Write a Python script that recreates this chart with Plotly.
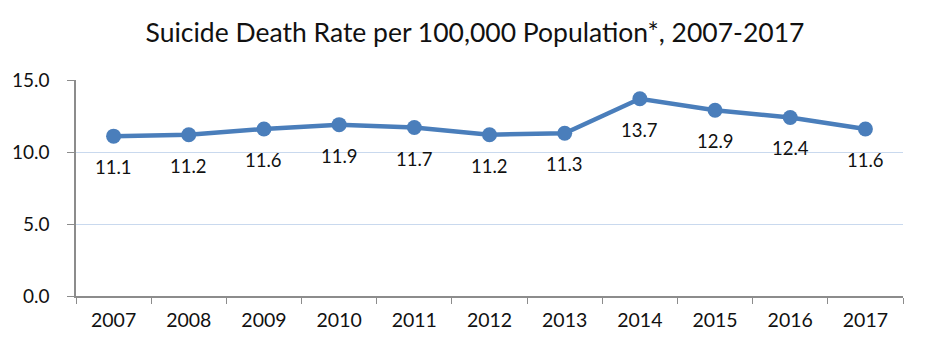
import plotly.graph_objects as go

years = ["2007", "2008", "2009", "2010", "2011", "2012", "2013", "2014", "2015", "2016", "2017"]
rates = [11.1, 11.2, 11.6, 11.9, 11.7, 11.2, 11.3, 13.7, 12.9, 12.4, 11.6]
y_ticks = [0, 5, 10, 15]
y_tick_labels = ["0.0", "5.0", "10.0", "15.0"]

FONT = "Lato, 'Open Sans', sans-serif"
BLUE = "#4a7ebb"
TEXT = "#111111"

fig = go.Figure(
    go.Scatter(
        x=years,
        y=rates,
        mode="lines+markers",
        line=dict(color=BLUE, width=4.5),
        marker=dict(color=BLUE, size=15),
        cliponaxis=False,
        hoverinfo="x+y",
    )
)

# value labels placed below each point (x given as category index)
for i, v in enumerate(rates):
    fig.add_annotation(
        x=i,
        y=v,
        xref="x",
        yref="y",
        text=f"{v:.1f}",
        showarrow=False,
        yshift=-31,
        xanchor="center",
        yanchor="middle",
        font=dict(family=FONT, size=18.5, color=TEXT),
    )

fig.update_layout(
    width=950,
    height=345,
    margin=dict(l=66, r=47, t=80, b=49),
    paper_bgcolor="white",
    plot_bgcolor="white",
    showlegend=False,
    title=dict(
        text="Suicide Death Rate per 100,000 Population*, 2007-2017",
        x=0.5,
        xanchor="center",
        y=1 - 33 / 345,
        yanchor="middle",
        font=dict(family=FONT, size=26.5, color=TEXT),
    ),
)

fig.update_xaxes(
    type="category",
    range=[-0.5, 10.5],
    showline=True,
    linecolor="#8c8c8c",
    linewidth=1.5,
    showgrid=False,
    ticks="outside",
    tickson="boundaries",
    ticklen=6,
    tickcolor="#8c8c8c",
    tickfont=dict(family=FONT, size=19.5, color=TEXT),
    ticklabelstandoff=6,
)

fig.update_yaxes(
    range=[0, 15],
    tickvals=y_ticks,
    ticktext=y_tick_labels,
    showline=True,
    linecolor="#8c8c8c",
    linewidth=1.5,
    showgrid=True,
    gridcolor="#c9d9ee",
    gridwidth=1,
    zeroline=False,
    ticks="outside",
    ticklen=7,
    tickcolor="#8c8c8c",
    tickfont=dict(family=FONT, size=19, color=TEXT),
    ticklabelstandoff=14,
)

fig.write_html("out.html")
